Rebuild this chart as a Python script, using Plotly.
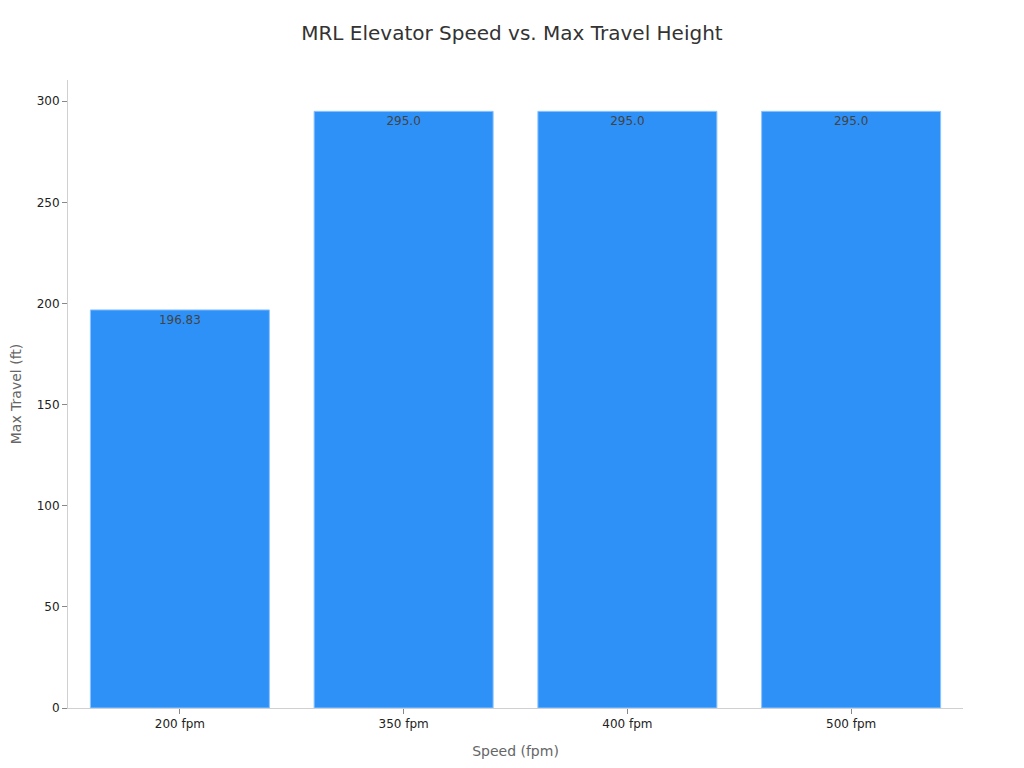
import plotly.graph_objects as go

# data
speeds = ["200 fpm", "350 fpm", "400 fpm", "500 fpm"]
max_travel = [196.83, 295.0, 295.0, 295.0]
labels = ["196.83", "295.0", "295.0", "295.0"]

fig = go.Figure()
fig.add_trace(go.Bar(
    x=speeds,
    y=max_travel,
    text=labels,
    textposition="inside",
    insidetextanchor="end",
    textfont=dict(size=12, color="#444444"),
    marker=dict(color="#2E91F8", line=dict(color="#8CC4FF", width=1)),
))

# page has an 8px body margin, so the figure is a bit smaller than the window
fig.update_layout(
    title=dict(text="MRL Elevator Speed vs. Max Travel Height", x=0.496, y=0.967,
               xanchor="center", yanchor="middle", font=dict(size=20, color="#333333")),
    font=dict(family="DejaVu Sans", color="#222222"),
    width=1016, height=760,
    margin=dict(l=60, r=61, t=72, b=60),
    plot_bgcolor="white", paper_bgcolor="white",
    bargap=0.2,
    showlegend=False,
)
fig.update_xaxes(
    title=dict(text="Speed (fpm)", font=dict(size=14, color="#666666")),
    showline=True, linecolor="#D0D0D0", linewidth=1,
    ticks="outside", ticklen=5, tickcolor="#888888",
    tickfont=dict(size=12), showgrid=False,
)
fig.update_yaxes(
    title=dict(text="Max Travel (ft)", font=dict(size=14, color="#666666")),
    showline=True, linecolor="#D0D0D0", linewidth=1,
    ticks="outside", ticklen=5, tickcolor="#888888",
    tickfont=dict(size=12), showgrid=False, zeroline=False,
    range=[0, 310.5], dtick=50, automargin=False,
)

fig.write_html("out.html")
